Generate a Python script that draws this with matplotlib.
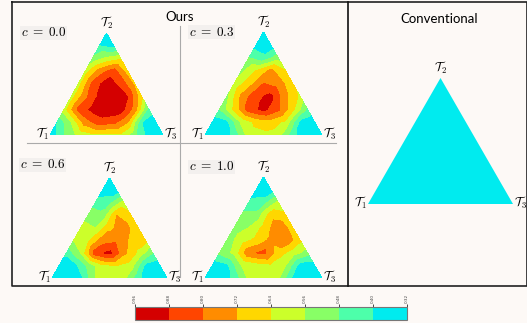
import numpy as np
import matplotlib
matplotlib.use("Agg")
import matplotlib.pyplot as plt
import matplotlib.tri as mtri
from matplotlib.colors import ListedColormap, BoundaryNorm

plt.rcParams['mathtext.fontset'] = 'cm'

levels = [0.32, 0.40, 0.48, 0.56, 0.64, 0.72, 0.80, 0.88, 0.96]
colors = ['#00ebef', '#4dffaa', '#88ff66', '#ccff2a',
          '#ffd700', '#ff8c00', '#ff4500', '#d40000']

# values on a barycentric lattice, rows go from the T1-T3 edge up to T2
c00 = [
    [0.34, 0.48, 0.58, 0.62, 0.62, 0.62, 0.50, 0.36, 0.34],
    [0.40, 0.56, 0.76, 0.84, 0.82, 0.72, 0.40, 0.34],
    [0.60, 0.82, 0.90, 0.94, 0.92, 0.76, 0.44],
    [0.60, 0.78, 0.90, 0.94, 0.88, 0.66],
    [0.60, 0.82, 0.92, 0.86, 0.70],
    [0.60, 0.76, 0.84, 0.68],
    [0.50, 0.58, 0.62],
    [0.40, 0.36],
    [0.34],
]
c03 = [
    [0.34, 0.34, 0.42, 0.60, 0.62, 0.60, 0.42, 0.34, 0.34],
    [0.34, 0.38, 0.58, 0.66, 0.68, 0.62, 0.38, 0.34],
    [0.48, 0.66, 0.84, 0.90, 0.82, 0.66, 0.46],
    [0.54, 0.74, 0.86, 0.90, 0.74, 0.62],
    [0.58, 0.68, 0.80, 0.76, 0.66],
    [0.54, 0.64, 0.74, 0.64],
    [0.48, 0.42, 0.52],
    [0.36, 0.34],
    [0.34],
]
c06 = [
    [0.34, 0.34, 0.38, 0.56, 0.60, 0.58, 0.42, 0.34, 0.34],
    [0.34, 0.36, 0.50, 0.62, 0.64, 0.60, 0.38, 0.34],
    [0.42, 0.56, 0.84, 0.90, 0.74, 0.62, 0.48],
    [0.56, 0.62, 0.76, 0.78, 0.70, 0.66],
    [0.58, 0.56, 0.70, 0.76, 0.66],
    [0.54, 0.50, 0.72, 0.66],
    [0.44, 0.46, 0.60],
    [0.34, 0.34],
    [0.34],
]
c10 = [
    [0.34, 0.34, 0.42, 0.58, 0.60, 0.58, 0.38, 0.34, 0.34],
    [0.34, 0.38, 0.56, 0.60, 0.62, 0.56, 0.36, 0.34],
    [0.50, 0.58, 0.78, 0.82, 0.68, 0.60, 0.52],
    [0.52, 0.60, 0.66, 0.74, 0.78, 0.66],
    [0.52, 0.56, 0.66, 0.78, 0.68],
    [0.50, 0.50, 0.68, 0.66],
    [0.42, 0.44, 0.58],
    [0.34, 0.34],
    [0.34],
]
conv_value = 0.36

panels = [(r"$c\;=\;0.0$", c00), (r"$c\;=\;0.3$", c03),
          (r"$c\;=\;0.6$", c06), (r"$c\;=\;1.0$", c10)]

W, H = 527, 323
h = np.sqrt(3) / 2
cmap = ListedColormap(colors)
norm = BoundaryNorm(levels, cmap.N)

fig = plt.figure(figsize=(W / 100, H / 100), dpi=100, facecolor='#fdf9f6')

# frame lines, drawn in pixel coordinates
bg = fig.add_axes([0, 0, 1, 1])
bg.set_xlim(0, W)
bg.set_ylim(H, 0)
bg.axis('off')
bg.plot([12, 527, 527, 12, 12], [2, 2, 286, 286, 2], color='#222222', lw=1.2)
bg.plot([348, 348], [2, 286], color='#111111', lw=1.2)
bg.plot([27, 336], [143, 143], color='#aaaaaa', lw=0.8)
bg.plot([180, 180], [26, 277], color='#aaaaaa', lw=0.8)
bg.text(180, 17, "Ours", ha='center', va='center', fontsize=9.5, family='Lato')
bg.text(439, 19, "Conventional", ha='center', va='center', fontsize=9.5, family='Lato')


def tri_axes(x0, x1, y_base, y_apex):
    ax = fig.add_axes([x0 / W, (H - y_base) / H, (x1 - x0) / W, (y_base - y_apex) / H])
    ax.set_xlim(0, 1)
    ax.set_ylim(0, h)
    ax.axis('off')
    ax.text(-0.01, 0.01, r"$\mathcal{T}_1$", ha='right', va='center', fontsize=9)
    ax.text(0.5, h + 0.015, r"$\mathcal{T}_2$", ha='center', va='bottom', fontsize=9)
    ax.text(1.01, 0.01, r"$\mathcal{T}_3$", ha='left', va='center', fontsize=9)
    return ax


# lattice points (i steps toward T3, j steps toward T2)
N = len(c00) - 1
ii, jj = [], []
for j in range(N + 1):
    for i in range(N + 1 - j):
        ii.append(i)
        jj.append(j)
ii = np.array(ii)
jj = np.array(jj)
tx = (ii + jj / 2) / N
ty = jj * h / N
tri = mtri.Triangulation(tx, ty)

boxes = [(50, 163, 135, 33), (205, 322, 135, 32), (52, 167, 278, 178), (205, 322, 278, 177)]
label_pos = [(21, 33), (189, 32), (20, 165), (189, 167)]

cs = None
for (label, rows), box, lp in zip(panels, boxes, label_pos):
    ax = tri_axes(*box)
    z = np.concatenate([np.array(r) for r in rows])
    cs = ax.tricontourf(tri, z, levels=levels, colors=colors)
    bg.text(lp[0], lp[1], label, ha='left', va='center', fontsize=9.5,
            bbox=dict(facecolor='#f3f0ee', edgecolor='none', pad=0.5))

# conventional: flat value everywhere
ax = tri_axes(368, 513, 204, 78)
ax.fill([0, 1, 0.5], [0, 0, h], color=cmap(norm(conv_value)), lw=0)

# colorbar
cax = fig.add_axes([135 / W, (H - 320) / H, 272 / W, 13 / H])
cb = fig.colorbar(cs, cax=cax, orientation='horizontal', ticks=levels)
cax.invert_xaxis()
cax.xaxis.set_ticks_position('top')
cax.set_xticklabels([f"{v:.2f}" for v in levels], rotation=90, fontsize=3, color='#444444')
cax.tick_params(length=2, width=0.5, pad=1)
cb.outline.set_edgecolor('#777777')
cb.outline.set_linewidth(0.8)

fig.savefig("out.png", dpi=100, facecolor=fig.get_facecolor())
